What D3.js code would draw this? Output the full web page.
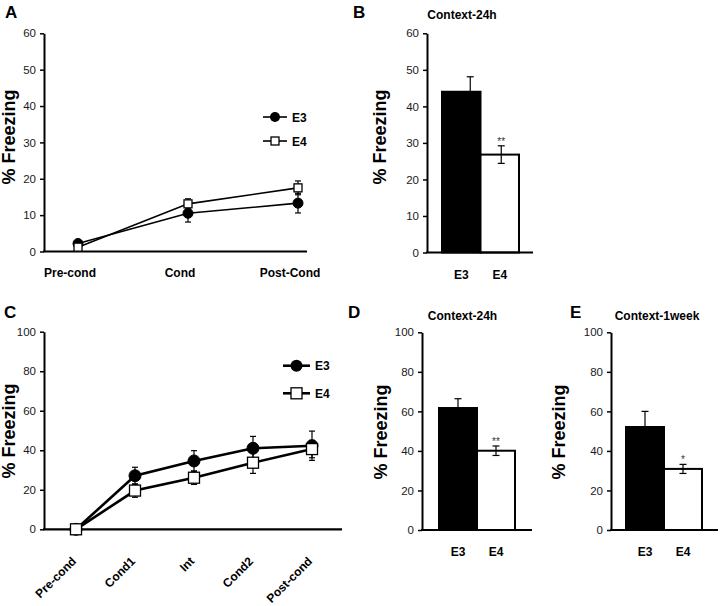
<!DOCTYPE html>
<html><head><meta charset="utf-8">
<script src="https://cdn.jsdelivr.net/npm/d3@7"></script>
<style>
body{margin:0;background:#fff;}
svg{display:block;font-family:"Liberation Sans",Arial,sans-serif;}
</style></head>
<body><svg id="c" width="720" height="606"></svg>
<script>
// ---------- DATA ----------
const catsA = ["Pre-cond", "Cond", "Post-Cond"];
const aE3 = [2.2, 10.5, 13.3];
const aE3err = [0.6, 2.4, 2.7];
const aE4 = [1.2, 13.1, 17.5];
const aE4err = [0.5, 1.4, 1.9];
const ticksA = [0, 10, 20, 30, 40, 50, 60];

const catsC = ["Pre-cond", "Cond1", "Int", "Cond2", "Post-cond"];
const cE3 = [0, 27.1, 34.6, 41.0, 42.3];
const cE3err = [0, 4.3, 5.2, 6.0, 7.4];
const cE4 = [0, 19.6, 26.1, 33.7, 40.6];
const cE4err = [0, 3.4, 3.4, 5.4, 4.4];
const ticksC = [0, 20, 40, 60, 80, 100];

const groups = ["E3", "E4"];
const bVals = [44.0, 26.8];
const bErr = [4.1, 2.4];
const bSig = ["", "**"];
const dVals = [61.7, 40.1];
const dErr = [4.7, 2.4];
const dSig = ["", "**"];
const eVals = [52.1, 30.9];
const eErr = [7.9, 2.3];
const eSig = ["", "*"];
const ticksB = [0, 10, 20, 30, 40, 50, 60];
const ticksDE = [0, 20, 40, 60, 80, 100];

// ---------- DRAW ----------
const svg = d3.select("#c");

function panelLabel(t, x, y) {
  svg.append("text").attr("x", x).attr("y", y).text(t)
    .attr("font-size", 17).attr("font-weight", "bold").attr("fill", "#000");
}
function yLabel(x, y) {
  svg.append("text").attr("transform", `translate(${x},${y}) rotate(-90)`)
    .attr("text-anchor", "middle").attr("font-size", 18).attr("font-weight", "bold")
    .attr("fill", "#000").text("% Freezing");
}
function yAxis(g, y, ticks, x) {
  const ax = g.append("g").attr("transform", `translate(${x},0)`)
    .call(d3.axisLeft(y).tickValues(ticks).tickSize(4).tickSizeOuter(0).tickPadding(4).tickFormat(d3.format("d")));
  ax.select(".domain").attr("stroke", "#000").attr("stroke-width", 2);
  ax.selectAll(".tick line").attr("stroke", "#000").attr("stroke-width", 1.5);
  ax.selectAll(".tick text").attr("font-size", 11.5).attr("fill", "#1a1a1a")
    .attr("font-family", "'Liberation Sans',Arial,sans-serif");
}
function xLine(g, y, x0, x1) {
  g.append("line").attr("x1", x0 - 1).attr("x2", x1).attr("y1", y(0)).attr("y2", y(0))
    .attr("stroke", "#000").attr("stroke-width", 2.2);
}

function linePanel(cfg) {
  const g = svg.append("g");
  const y = d3.scaleLinear().domain([0, cfg.ticks[cfg.ticks.length - 1]]).range([cfg.y0, cfg.y1]);
  const x = d3.scalePoint().domain(cfg.cats).range([cfg.p0, cfg.p1]);
  yAxis(g, y, cfg.ticks, cfg.ax);
  xLine(g, y, cfg.ax, cfg.axEnd);
  const series = [
    {vals: cfg.e3, err: cfg.e3err, shape: "circle"},
    {vals: cfg.e4, err: cfg.e4err, shape: "square"}
  ];
  const line = d3.line().x((d, i) => x(cfg.cats[i])).y(d => y(d));
  series.forEach(s => {
    g.append("path").attr("d", line(s.vals)).attr("fill", "none")
      .attr("stroke", "#000").attr("stroke-width", cfg.lw);
  });
  series.forEach(s => {
    s.vals.forEach((v, i) => {
      const cx = x(cfg.cats[i]);
      if (s.err[i] > 0) {
        const yt = y(v + s.err[i]), yb = y(v - s.err[i]);
        g.append("line").attr("x1", cx).attr("x2", cx).attr("y1", yt).attr("y2", yb)
          .attr("stroke", "#000").attr("stroke-width", 1.2);
        [yt, yb].forEach(yy => g.append("line").attr("x1", cx - 3).attr("x2", cx + 3)
          .attr("y1", yy).attr("y2", yy).attr("stroke", "#000").attr("stroke-width", 1.2));
      }
    });
  });
  series.forEach(s => {
    s.vals.forEach((v, i) => {
      const cx = x(cfg.cats[i]), cy = y(v);
      if (s.shape === "circle") {
        g.append("circle").attr("cx", cx).attr("cy", cy).attr("r", cfg.r)
          .attr("fill", "#000").attr("stroke", "#000");
      } else {
        g.append("rect").attr("x", cx - cfg.sq / 2).attr("y", cy - cfg.sq / 2)
          .attr("width", cfg.sq).attr("height", cfg.sq)
          .attr("fill", "#fff").attr("stroke", "#000").attr("stroke-width", 1.3);
      }
    });
  });
  // x labels
  if (cfg.rotate) {
    cfg.cats.forEach(c => {
      g.append("text").attr("transform", `translate(${x(c) + 1},${cfg.labY}) rotate(-45)`)
        .attr("text-anchor", "end").attr("font-size", 12).attr("font-weight", "bold")
        .attr("fill", "#000").text(c);
    });
  } else {
    cfg.cats.forEach(c => {
      g.append("text").attr("x", x(c) - 8).attr("y", cfg.labY)
        .attr("text-anchor", "middle").attr("font-size", 12).attr("font-weight", "bold")
        .attr("fill", "#000").text(c);
    });
  }
  // legend
  groups.forEach((name, i) => {
    const ly = cfg.legY[i];
    g.append("line").attr("x1", cfg.legX0).attr("x2", cfg.legX1).attr("y1", ly).attr("y2", ly)
      .attr("stroke", "#000").attr("stroke-width", cfg.lw);
    const mx = (cfg.legX0 + cfg.legX1) / 2;
    if (i === 0) g.append("circle").attr("cx", mx).attr("cy", ly).attr("r", cfg.r).attr("fill", "#000");
    else g.append("rect").attr("x", mx - cfg.sq / 2).attr("y", ly - cfg.sq / 2).attr("width", cfg.sq)
      .attr("height", cfg.sq).attr("fill", "#fff").attr("stroke", "#000").attr("stroke-width", 1.3);
    g.append("text").attr("x", cfg.legX1 + 5).attr("y", ly + 4.5).attr("font-size", 12)
      .attr("font-weight", "bold").attr("fill", "#000").text(name);
  });
}

function barPanel(cfg) {
  const g = svg.append("g");
  const y = d3.scaleLinear().domain([0, cfg.ticks[cfg.ticks.length - 1]]).range([cfg.y0, cfg.y1]);
  const x = d3.scaleBand().domain(groups).range([cfg.b0, cfg.b1]).padding(0);
  yAxis(g, y, cfg.ticks, cfg.ax);
  groups.forEach((name, i) => {
    g.append("rect").attr("x", x(name)).attr("y", y(cfg.vals[i]))
      .attr("width", x.bandwidth()).attr("height", y(0) - y(cfg.vals[i]))
      .attr("fill", i === 0 ? "#000" : "#fff").attr("stroke", "#000").attr("stroke-width", 2);
  });
  groups.forEach((name, i) => {
    const cx = x(name) + x.bandwidth() / 2 + cfg.errDx[i];
    const yt = y(cfg.vals[i] + cfg.err[i]), yb = y(cfg.vals[i] - cfg.err[i]);
    g.append("line").attr("x1", cx).attr("x2", cx).attr("y1", yt).attr("y2", i === 0 ? y(cfg.vals[i]) : yb)
      .attr("stroke", "#000").attr("stroke-width", 1.2);
    const caps = i === 0 ? [yt] : [yt, yb];
    caps.forEach(yy => g.append("line").attr("x1", cx - 3.5).attr("x2", cx + 3.5)
      .attr("y1", yy).attr("y2", yy).attr("stroke", "#000").attr("stroke-width", 1.2));
    if (cfg.sig[i]) {
      g.append("text").attr("x", cx).attr("y", yt - 1).attr("text-anchor", "middle")
        .attr("font-size", 10).attr("fill", "#333").text(cfg.sig[i]);
    }
    g.append("text").attr("x", x(name) + x.bandwidth() / 2).attr("y", cfg.labY)
      .attr("text-anchor", "middle").attr("font-size", 12).attr("font-weight", "bold")
      .attr("fill", "#000").text(name);
  });
  xLine(g, y, cfg.ax, cfg.axEnd);
  g.append("text").attr("x", cfg.titleX).attr("y", cfg.titleY).attr("text-anchor", "middle")
    .attr("font-size", 12).attr("font-weight", "bold").attr("fill", "#000").text(cfg.title);
}

// Panel A
panelLabel("A", 5, 18);
yLabel(15, 137);
linePanel({cats: catsA, e3: aE3, e3err: aE3err, e4: aE4, e4err: aE4err, ticks: ticksA,
  y0: 251.5, y1: 33.3, p0: 78, p1: 298, ax: 44, axEnd: 307, lw: 1.6, r: 5, sq: 8,
  labY: 277, rotate: false, legX0: 263, legX1: 287, legY: [117, 141]});

// Panel B
panelLabel("B", 353, 18);
yLabel(386, 137);
barPanel({vals: bVals, err: bErr, sig: bSig, ticks: ticksB, y0: 252.5, y1: 33.3,
  b0: 442, b1: 519, ax: 427, axEnd: 533, labY: 279, title: "Context-24h", titleX: 462, titleY: 19,
  errDx: [9, 1.5]});

// Panel C
panelLabel("C", 4, 318);
yLabel(15, 431);
linePanel({cats: catsC, e3: cE3, e3err: cE3err, e4: cE4, e4err: cE4err, ticks: ticksC,
  y0: 529.3, y1: 331.7, p0: 76, p1: 312, ax: 44, axEnd: 342, lw: 2.6, r: 6, sq: 11,
  labY: 562, rotate: true, legX0: 283, legX1: 310, legY: [365.7, 393.3]});

// Panel D
panelLabel("D", 348, 318);
yLabel(387, 432);
barPanel({vals: dVals, err: dErr, sig: dSig, ticks: ticksDE, y0: 530, y1: 332.3,
  b0: 439, b1: 515, ax: 422, axEnd: 532, labY: 556, title: "Context-24h", titleX: 462.5, titleY: 320,
  errDx: [0, 0]});

// Panel E
panelLabel("E", 570, 318);
yLabel(565, 432);
barPanel({vals: eVals, err: eErr, sig: eSig, ticks: ticksDE, y0: 530, y1: 332.3,
  b0: 626, b1: 702, ax: 611, axEnd: 718, labY: 556, title: "Context-1week", titleX: 657, titleY: 320,
  errDx: [0, 0]});
</script></body></html>
